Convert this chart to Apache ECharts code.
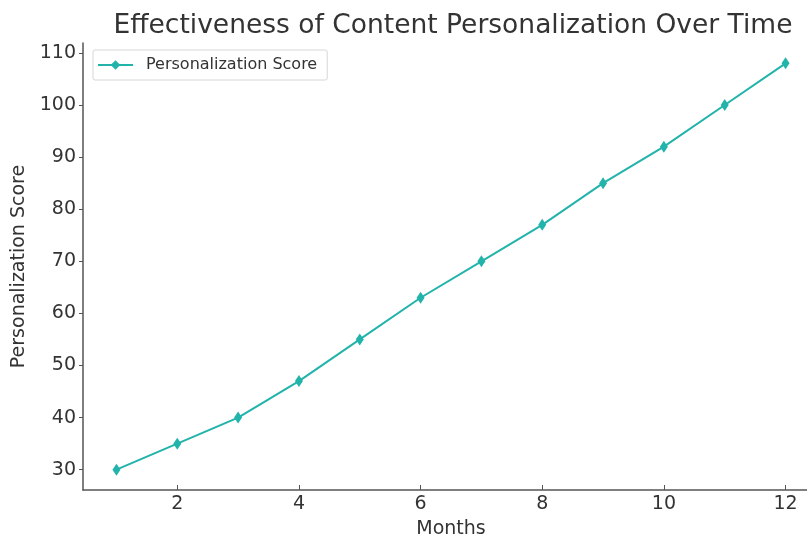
<!DOCTYPE html>
<html>
<head>
<meta charset="utf-8">
<style>
  html, body { margin: 0; padding: 0; background: #ffffff; }
  #chart { width: 807px; height: 539px; }
</style>
<script src="https://cdn.jsdelivr.net/npm/echarts@6/dist/echarts.min.js"></script>
</head>
<body>
<div id="chart"></div>
<script>
// Monthly personalization scores
const months = [1, 2, 3, 4, 5, 6, 7, 8, 9, 10, 11, 12];
const scores = [30, 35, 40, 47, 55, 63, 70, 77, 85, 92, 100, 108];

// Tick positions shown on each axis
const xTicks = [2, 4, 6, 8, 10, 12];
const yTicks = [30, 40, 50, 60, 70, 80, 90, 100, 110];

const seriesName = 'Personalization Score';
const lineColor = '#22b3ab';
const textColor = '#333333';
const axisColor = '#555555';
const font = 'DejaVu Sans';

const chart = echarts.init(document.getElementById('chart'), null, { renderer: 'canvas' });

// 5% padding around the data range on both axes
const xPad = (months[months.length - 1] - months[0]) * 0.05;
const yMin = Math.min(...scores), yMax = Math.max(...scores);
const yPad = (yMax - yMin) * 0.05;

chart.setOption({
  animation: false,
  backgroundColor: '#ffffff',
  title: {
    text: 'Effectiveness of Content Personalization Over Time',
    left: 448,
    textAlign: 'center',
    top: 8,
    textStyle: { fontFamily: font, fontSize: 26.5, fontWeight: 'normal', color: textColor }
  },
  legend: {
    left: 93,
    top: 50,
    orient: 'vertical',
    padding: [7, 10, 7, 4],
    borderColor: '#d6d6d6',
    borderWidth: 1,
    borderRadius: 2,
    itemWidth: 35,
    itemHeight: 12,
    itemGap: 6,
    textStyle: { fontFamily: font, fontSize: 16, color: textColor, padding: [0, 0, 0, 8] },
    data: [seriesName]
  },
  grid: { left: 83, right: -12, top: 43, bottom: 49, containLabel: false, outerBoundsMode: 'none' },
  xAxis: {
    type: 'value',
    min: months[0] - xPad,
    max: months[months.length - 1] + xPad,
    name: 'Months',
    nameLocation: 'middle',
    nameGap: 30,
    nameTextStyle: { fontFamily: font, fontSize: 19, color: textColor },
    axisLine: { show: true, lineStyle: { color: axisColor, width: 1.5 } },
    axisTick: { show: true, inside: true, length: 5, customValues: xTicks, lineStyle: { color: axisColor } },
    axisLabel: { customValues: xTicks, fontFamily: font, fontSize: 19, color: textColor, margin: 5 },
    splitLine: { show: false }
  },
  yAxis: {
    type: 'value',
    min: yMin - yPad,
    max: yMax + yPad,
    name: 'Personalization Score',
    nameLocation: 'middle',
    nameGap: 53,
    nameRotate: 90,
    nameTextStyle: { fontFamily: font, fontSize: 19, color: textColor },
    axisLine: { show: true, lineStyle: { color: axisColor, width: 1.5 } },
    axisTick: { show: true, inside: false, length: 4, customValues: yTicks, lineStyle: { color: axisColor } },
    axisLabel: { customValues: yTicks, fontFamily: font, fontSize: 19, color: textColor, margin: 7 },
    splitLine: { show: false }
  },
  series: [{
    name: seriesName,
    type: 'line',
    data: months.map((m, i) => [m, scores[i]]),
    symbol: 'diamond',
    symbolSize: [8, 12],
    lineStyle: { color: lineColor, width: 2 },
    itemStyle: { color: lineColor },
    emphasis: { disabled: true }
  }]
});
</script>
</body>
</html>
